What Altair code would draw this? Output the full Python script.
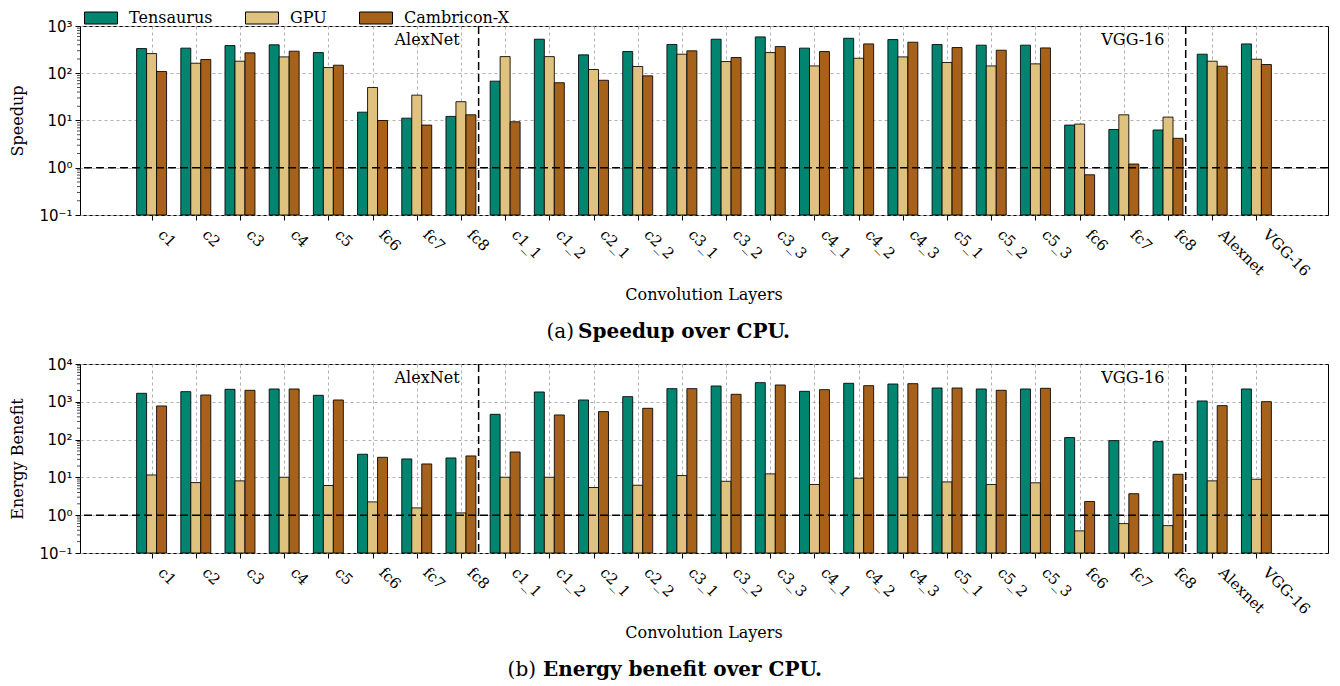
import json
import altair as alt
import pandas as pd

layers = ["c1", "c2", "c3", "c4", "c5", "fc6", "fc7", "fc8",
          "c1_1", "c1_2", "c2_1", "c2_2", "c3_1", "c3_2", "c3_3", "c4_1", "c4_2", "c4_3",
          "c5_1", "c5_2", "c5_3", "fc6", "fc7", "fc8", "Alexnet", "VGG-16"]
series = ["Tensaurus", "GPU", "Cambricon-X"]
colors = ["#018571", "#dfc27d", "#a6611a"]

speed_tensaurus = [333, 340, 385, 400, 274, 15, 11.2, 12.2, 68, 525, 245, 288, 405, 525, 588,
                   340, 550, 516, 405, 393, 393, 8.0, 6.45, 6.3, 253, 418]
speed_gpu = [261, 163, 180, 222, 132, 50, 34.4, 25, 225, 225, 120, 139, 253, 177, 274,
             143, 208, 222, 169, 143, 158, 8.4, 13.2, 11.8, 180, 198]
speed_cambricon = [109, 195, 270, 293, 148, 10, 8.0, 13.2, 9.4, 63, 71, 88, 298, 215, 367,
                   288, 418, 454, 350, 307, 344, 0.71, 1.2, 4.2, 141, 153]

energy_tensaurus = [1679, 1857, 2138, 2183, 1486, 41, 30.8, 32.7, 467, 1820, 1117, 1370, 2228,
                    2622, 3213, 1896, 3085, 2960, 2320, 2183, 2183, 113, 94, 88.5, 1052, 2183]
energy_gpu = [11.6, 7.3, 8.1, 10.1, 6.1, 2.25, 1.56, 1.15, 10.1, 10.1, 5.4, 6.2, 11.2,
              7.9, 12.4, 6.5, 9.5, 10.1, 7.6, 6.5, 7.2, 0.385, 0.6, 0.53, 8.1, 8.95]
energy_cambricon = [776, 1514, 2014, 2183, 1117, 34, 22.7, 37, 47, 449, 550, 673, 2228,
                    1578, 2786, 2098, 2674, 3020, 2320, 2014, 2275, 2.3, 3.7, 12.1, 792, 1010]

group_names = ["AlexNet", "VGG-16"]
group_label_x = [6.97, 22.92]
separators = [7.4, 23.4]
baseline_value = [1]

SERIF = "DejaVu Serif"
SANS = "DejaVu Sans"
W, H = 1248, 189


def panel(vals, ymax_exp, ytitle, cap_tag, cap_text, tag_x, text_x):
    rows = []
    for k, (name, vs) in enumerate(zip(series, vals)):
        for i, (lab, v) in enumerate(zip(layers, vs)):
            rows.append({"idx": i, "layer": lab, "series": name, "k": k, "value": v})
    df = pd.DataFrame(rows)

    major = [10.0 ** e for e in range(-1, ymax_exp + 1)]
    minor = [m * 10.0 ** e for e in range(-1, ymax_exp) for m in range(2, 10)]
    sup = {-1: "10⁻¹", 0: "10⁰", 1: "10¹", 2: "10²", 3: "10³", 4: "10⁴"}
    lab_expr = " : ".join(
        f"datum.value >= {10.0 ** e * 0.9} ? '{sup[e]}'" for e in range(ymax_exp, -1, -1)
    ) + " : '10⁻¹'"

    xs = alt.Scale(domain=[-1.62, 26.62], nice=False, zero=False)
    ys = alt.Scale(type="log", domain=[0.1, 10.0 ** ymax_exp], nice=False)

    xaxis = alt.Axis(values=list(range(len(layers))),
                     labelExpr=json.dumps(layers) + "[datum.value]",
                     labelAngle=45, labelAlign="left", labelBaseline="bottom",
                     labelFont=SERIF, labelFontSize=15, labelPadding=17, labelOffset=3,
                     labelOverlap=False, labelBound=False,
                     tickSize=5, title=None, grid=True)
    yaxis = alt.Axis(values=major, labelExpr=lab_expr, labelFont=SANS, labelFontSize=15,
                     tickSize=5, labelPadding=3, title=ytitle, titleFont=SERIF,
                     titleFontSize=16, titleFontWeight="normal", titlePadding=5,
                     minExtent=50, maxExtent=50, grid=True)

    bars = alt.Chart(df).transform_calculate(
        x0="datum.idx + (datum.k - 1) * 0.226 - 0.113",
        x1="datum.idx + (datum.k - 1) * 0.226 + 0.113",
    ).mark_bar(stroke="black", strokeWidth=1, strokeOpacity=0.85).encode(
        x=alt.X("x0:Q", scale=xs, axis=xaxis),
        x2="x1:Q",
        y=alt.Y("value:Q", scale=ys, axis=yaxis),
        y2=alt.datum(0.1),
        color=alt.Color("series:N", sort=series,
                        scale=alt.Scale(domain=series, range=colors),
                        legend=alt.Legend(title=None, orient="none", direction="horizontal",
                                          legendX=13, legendY=-16,
                                          symbolType="M-2.2,-0.8H2.2V0.8H-2.2Z",
                                          symbolSize=225, symbolStrokeColor="black",
                                          symbolStrokeWidth=1, symbolOpacity=1,
                                          labelFont=SERIF, labelFontSize=16,
                                          labelOffset=20, columnPadding=30, padding=0)),
    )

    minor_ticks = alt.Chart(pd.DataFrame({"value": minor})).mark_rule(
        color="black", strokeWidth=0.7).encode(
        y=alt.Y("value:Q", scale=ys, axis=yaxis), x=alt.value(0), x2=alt.value(-3))

    hline = alt.Chart(pd.DataFrame({"value": baseline_value})).mark_rule(
        color="black", strokeWidth=1.5, strokeDash=[8, 4]).encode(
        y=alt.Y("value:Q", scale=ys, axis=yaxis))

    vlines = alt.Chart(pd.DataFrame({"x0": separators})).mark_rule(
        color="black", strokeWidth=1.5, strokeDash=[8, 4]).encode(
        x=alt.X("x0:Q", scale=xs, axis=xaxis))

    names = alt.Chart(pd.DataFrame({"n": group_names, "x0": group_label_x})).mark_text(
        align="right", baseline="middle", font=SERIF, fontSize=16, color="black").encode(
        x=alt.X("x0:Q", scale=xs, axis=xaxis), y=alt.value(14), text="n:N")

    xtitle = alt.Chart(pd.DataFrame({"t": ["Convolution Layers"]})).mark_text(
        align="center", baseline="middle", font=SERIF, fontSize=16, color="black").encode(
        x=alt.value(W / 2), y=alt.value(269), text="t:N")

    tag = alt.Chart(pd.DataFrame({"t": [cap_tag]})).mark_text(
        align="right", baseline="middle", font=SERIF, fontSize=20, color="black").encode(
        x=alt.value(tag_x), y=alt.value(306), text="t:N")

    cap = alt.Chart(pd.DataFrame({"t": [cap_text]})).mark_text(
        align="left", baseline="middle", font=SERIF, fontSize=20, fontWeight="bold",
        color="black").encode(
        x=alt.value(text_x), y=alt.value(306), text="t:N")

    return alt.layer(bars, minor_ticks, hline, vlines, names, xtitle, tag, cap).properties(
        width=W, height=H)


top = panel([speed_tensaurus, speed_gpu, speed_cambricon], 3, "Speedup",
            "(a)", "Speedup over CPU.", 494, 498)
bottom = panel([energy_tensaurus, energy_gpu, energy_cambricon], 4, "Energy Benefit",
               "(b)", "Energy benefit over CPU.", 456, 463)

chart = alt.vconcat(top, bottom, spacing=13).properties(
    padding={"left": 0, "top": 2, "right": 0, "bottom": 0}
).configure_view(stroke="black", strokeWidth=1).configure_axis(
    gridColor="#b0b0b0", gridDash=[3, 3], gridWidth=1, tickColor="black",
    domain=False, labelColor="black", titleColor="black")

chart.save("out.html", embed_options={"renderer": "svg", "actions": False})
